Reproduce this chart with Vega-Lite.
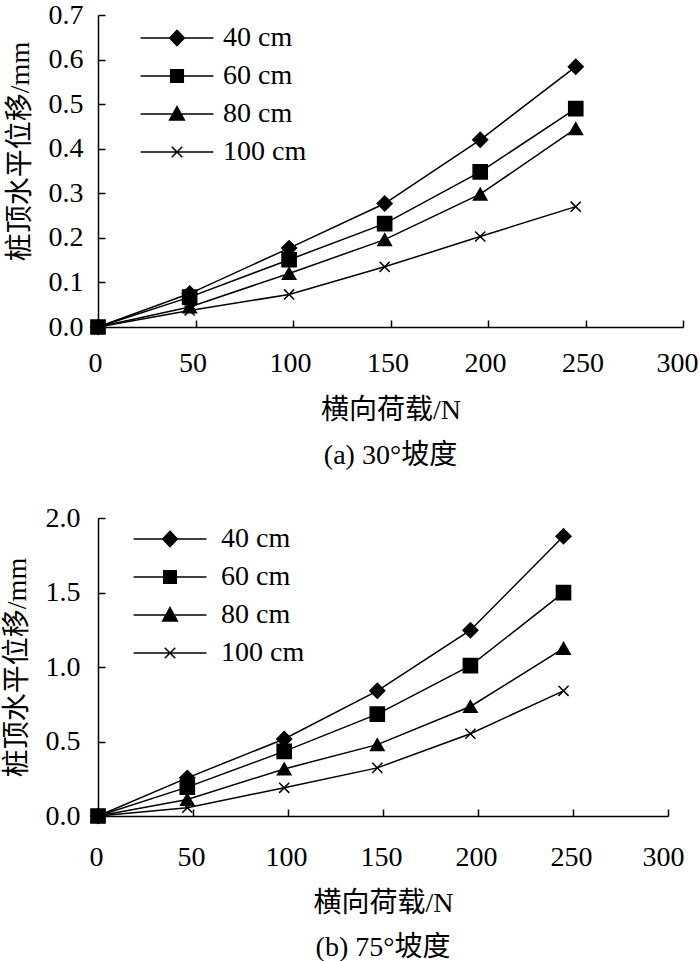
{
  "$schema": "https://vega.github.io/schema/vega-lite/v6.json",
  "padding": {"left": 3, "top": 1, "right": 0, "bottom": 0},
  "background": "white",
  "config": {
    "view": {"stroke": null},
    "font": "Liberation Serif, Noto Sans CJK SC",
    "axis": {
      "domainColor": "black",
      "domainWidth": 1.5,
      "tickColor": "black",
      "tickWidth": 1.5,
      "tickSize": -7,
      "grid": false,
      "labelFont": "Liberation Serif",
      "labelFontSize": 28,
      "labelColor": "black",
      "labelOverlap": false,
      "labelFlush": false,
      "titleFont": "Liberation Serif, Noto Sans CJK SC",
      "titleFontSize": 28,
      "titleFontWeight": "normal",
      "titleColor": "black"
    },
    "title": {
      "font": "Liberation Serif, Noto Sans CJK SC",
      "fontSize": 28,
      "fontWeight": "normal",
      "color": "black"
    },
    "legend": {
      "labelFont": "Liberation Serif",
      "labelFontSize": 28,
      "labelColor": "black"
    }
  },
  "datasets": {
    "a": [
      {"load": 0, "disp": 0, "series": "40 cm"},
      {"load": 47, "disp": 0.075, "series": "40 cm"},
      {"load": 98, "disp": 0.177, "series": "40 cm"},
      {"load": 147, "disp": 0.277, "series": "40 cm"},
      {"load": 196, "disp": 0.42, "series": "40 cm"},
      {"load": 245, "disp": 0.584, "series": "40 cm"},
      {"load": 0, "disp": 0, "series": "60 cm"},
      {"load": 47, "disp": 0.067, "series": "60 cm"},
      {"load": 98, "disp": 0.151, "series": "60 cm"},
      {"load": 147, "disp": 0.232, "series": "60 cm"},
      {"load": 196, "disp": 0.348, "series": "60 cm"},
      {"load": 245, "disp": 0.49, "series": "60 cm"},
      {"load": 0, "disp": 0, "series": "80 cm"},
      {"load": 47, "disp": 0.045, "series": "80 cm"},
      {"load": 98, "disp": 0.12, "series": "80 cm"},
      {"load": 147, "disp": 0.196, "series": "80 cm"},
      {"load": 196, "disp": 0.298, "series": "80 cm"},
      {"load": 245, "disp": 0.445, "series": "80 cm"},
      {"load": 0, "disp": 0, "series": "100 cm"},
      {"load": 47, "disp": 0.037, "series": "100 cm"},
      {"load": 98, "disp": 0.073, "series": "100 cm"},
      {"load": 147, "disp": 0.135, "series": "100 cm"},
      {"load": 196, "disp": 0.203, "series": "100 cm"},
      {"load": 245, "disp": 0.27, "series": "100 cm"}
    ],
    "b": [
      {"load": 0, "disp": 0, "series": "40 cm"},
      {"load": 47, "disp": 0.256, "series": "40 cm"},
      {"load": 98, "disp": 0.517, "series": "40 cm"},
      {"load": 147, "disp": 0.84, "series": "40 cm"},
      {"load": 196, "disp": 1.247, "series": "40 cm"},
      {"load": 245, "disp": 1.878, "series": "40 cm"},
      {"load": 0, "disp": 0, "series": "60 cm"},
      {"load": 47, "disp": 0.194, "series": "60 cm"},
      {"load": 98, "disp": 0.434, "series": "60 cm"},
      {"load": 147, "disp": 0.684, "series": "60 cm"},
      {"load": 196, "disp": 1.009, "series": "60 cm"},
      {"load": 245, "disp": 1.499, "series": "60 cm"},
      {"load": 0, "disp": 0, "series": "80 cm"},
      {"load": 47, "disp": 0.111, "series": "80 cm"},
      {"load": 98, "disp": 0.316, "series": "80 cm"},
      {"load": 147, "disp": 0.479, "series": "80 cm"},
      {"load": 196, "disp": 0.735, "series": "80 cm"},
      {"load": 245, "disp": 1.125, "series": "80 cm"},
      {"load": 0, "disp": 0, "series": "100 cm"},
      {"load": 47, "disp": 0.056, "series": "100 cm"},
      {"load": 98, "disp": 0.189, "series": "100 cm"},
      {"load": 147, "disp": 0.323, "series": "100 cm"},
      {"load": 196, "disp": 0.552, "series": "100 cm"},
      {"load": 245, "disp": 0.84, "series": "100 cm"}
    ]
  },
  "spacing": 34,
  "vconcat": [
    {
      "data": {"name": "a"},
      "width": 585,
      "height": 312,
      "title": {"text": "(a) 30°坡度", "orient": "bottom", "offset": 18},
      "encoding": {
        "x": {
          "field": "load",
          "type": "quantitative",
          "scale": {"domain": [0, 300], "nice": false},
          "axis": {
            "values": [0, 50, 100, 150, 200, 250, 300],
            "labelPadding": 29,
            "labelOffset": {"condition": {"test": "datum.value == 300", "value": -6}, "value": -3},
            "title": "横向荷载/N",
            "titlePadding": 19
          }
        },
        "y": {
          "field": "disp",
          "type": "quantitative",
          "scale": {"domain": [0, 0.7], "nice": false},
          "axis": {"values": [0, 0.1, 0.2, 0.3, 0.4, 0.5, 0.6, 0.7], "format": ".1f", "labelPadding": 22, "title": "桩顶水平位移/mm", "titlePadding": 14, "titleY": 136}
        }
      },
      "layer": [
        {
          "mark": {"type": "line", "color": "black", "strokeWidth": 1.5},
          "encoding": {"detail": {"field": "series"}}
        },
        {
          "mark": {"type": "point", "filled": true, "color": "black", "stroke": "black", "strokeWidth": 1.5, "opacity": 1},
          "encoding": {
            "shape": {
              "field": "series",
              "type": "nominal",
              "scale": {"domain": ["40 cm", "60 cm", "80 cm", "100 cm"], "range": ["diamond", "square", "triangle-up", "M-0.8,-0.8L0.8,0.8M0.8,-0.8L-0.8,0.8"]},
              "legend": null
            },
            "size": {
              "field": "series",
              "type": "nominal",
              "scale": {"domain": ["40 cm", "60 cm", "80 cm", "100 cm"], "range": [220, 160, 200, 170]},
              "legend": null
            }
          }
        },
        {
          "transform": [{"filter": "false"}],
          "mark": {"type": "point", "filled": true, "fill": "black", "stroke": "black", "strokeWidth": 1.5, "opacity": 1},
          "encoding": {
            "shape": {
              "field": "series",
              "type": "nominal",
              "scale": {"domain": ["40 cm", "60 cm", "80 cm", "100 cm"], "range": ["M-5.2,0H5.2M0,-1.1L1.05,0L0,1.1L-1.05,0Z", "M-5.2,0H5.2M-0.9,-0.9H0.9V0.9H-0.9Z", "M-5.2,0H5.2M0,-1.05L1.05,0.85H-1.05Z", "M-5.2,0H5.2M-0.75,-0.75L0.75,0.75M0.75,-0.75L-0.75,0.75"]},
              "legend": {
                "title": null,
                "orient": "none",
                "legendX": 65,
                "legendY": 9,
                "padding": 0,
                "symbolSize": 196,
                "rowPadding": 10,
                "labelOffset": 32,
                "encode": {"symbols": {"update": {"fill": {"value": "black"}, "stroke": {"value": "black"}, "strokeWidth": {"value": 1.5}, "opacity": {"value": 1}}}}
              }
            }
          }
        }
      ],
      "resolve": {"scale": {"shape": "independent", "size": "independent"}, "legend": {"shape": "independent"}}
    },
    {
      "data": {"name": "b"},
      "width": 570,
      "height": 298,
      "title": {"text": "(b) 75°坡度", "orient": "bottom", "offset": 17},
      "encoding": {
        "x": {
          "field": "load",
          "type": "quantitative",
          "scale": {"domain": [0, 300], "nice": false},
          "axis": {
            "values": [0, 50, 100, 150, 200, 250, 300],
            "labelPadding": 34,
            "labelOffset": {"condition": {"test": "datum.value == 300", "value": -5}, "value": -2},
            "title": "横向荷载/N",
            "titlePadding": 18
          }
        },
        "y": {
          "field": "disp",
          "type": "quantitative",
          "scale": {"domain": [0, 2], "nice": false},
          "axis": {"values": [0, 0.5, 1, 1.5, 2], "format": ".1f", "labelPadding": 25, "title": "桩顶水平位移/mm", "titlePadding": 14}
        }
      },
      "layer": [
        {
          "mark": {"type": "line", "color": "black", "strokeWidth": 1.5},
          "encoding": {"detail": {"field": "series"}}
        },
        {
          "mark": {"type": "point", "filled": true, "color": "black", "stroke": "black", "strokeWidth": 1.5, "opacity": 1},
          "encoding": {
            "shape": {
              "field": "series",
              "type": "nominal",
              "scale": {"domain": ["40 cm", "60 cm", "80 cm", "100 cm"], "range": ["diamond", "square", "triangle-up", "M-0.8,-0.8L0.8,0.8M0.8,-0.8L-0.8,0.8"]},
              "legend": null
            },
            "size": {
              "field": "series",
              "type": "nominal",
              "scale": {"domain": ["40 cm", "60 cm", "80 cm", "100 cm"], "range": [220, 160, 200, 170]},
              "legend": null
            }
          }
        },
        {
          "transform": [{"filter": "false"}],
          "mark": {"type": "point", "filled": true, "fill": "black", "stroke": "black", "strokeWidth": 1.5, "opacity": 1},
          "encoding": {
            "shape": {
              "field": "series",
              "type": "nominal",
              "scale": {"domain": ["40 cm", "60 cm", "80 cm", "100 cm"], "range": ["M-5.2,0H5.2M0,-1.1L1.05,0L0,1.1L-1.05,0Z", "M-5.2,0H5.2M-0.9,-0.9H0.9V0.9H-0.9Z", "M-5.2,0H5.2M0,-1.05L1.05,0.85H-1.05Z", "M-5.2,0H5.2M-0.75,-0.75L0.75,0.75M0.75,-0.75L-0.75,0.75"]},
              "legend": {
                "title": null,
                "orient": "none",
                "legendX": 58,
                "legendY": 7,
                "padding": 0,
                "symbolSize": 196,
                "rowPadding": 10,
                "labelOffset": 37,
                "encode": {"symbols": {"update": {"fill": {"value": "black"}, "stroke": {"value": "black"}, "strokeWidth": {"value": 1.5}, "opacity": {"value": 1}}}}
              }
            }
          }
        }
      ],
      "resolve": {"scale": {"shape": "independent", "size": "independent"}, "legend": {"shape": "independent"}}
    }
  ]
}
